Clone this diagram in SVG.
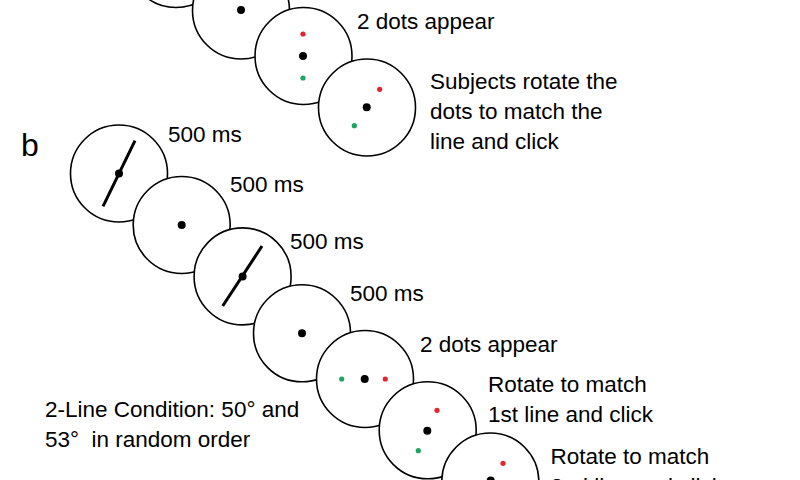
<svg xmlns="http://www.w3.org/2000/svg" width="800" height="480" viewBox="0 0 800 480">
  <style>
    .c { fill: #ffffff; stroke: #000000; stroke-width: 1.6; }
    .fix { fill: #000000; }
    .red { fill: #e3262e; }
    .grn { fill: #1fa463; }
    .bar { stroke: #000000; stroke-width: 3; stroke-linecap: butt; fill: none; }
    .t { font-family: "Liberation Sans", Arial, sans-serif; font-size: 22.5px; fill: #000000; white-space: pre; }
    .lbl { font-family: "Liberation Sans", Arial, sans-serif; font-size: 32px; fill: #000000; }
  </style>
  <rect x="0" y="0" width="800" height="480" fill="#ffffff"/>

  <!-- Panel a (partially visible) -->
  <g id="a1"><circle class="c" cx="176" cy="-41" r="48.5"/></g>
  <g id="a2"><circle class="c" cx="241" cy="10.5" r="48.5"/><circle class="fix" cx="241" cy="10" r="4"/></g>
  <g id="a3">
    <circle class="c" cx="303.5" cy="56" r="48.5"/>
    <circle class="red" cx="303" cy="34" r="2.6"/>
    <circle class="fix" cx="303" cy="56" r="4"/>
    <circle class="grn" cx="303" cy="78" r="2.6"/>
    <text class="t" x="357" y="29">2 dots appear</text>
  </g>
  <g id="a4">
    <circle class="c" cx="367" cy="107.5" r="48.5"/>
    <circle class="red" cx="379.7" cy="89.3" r="2.6"/>
    <circle class="fix" cx="366.7" cy="107.3" r="4"/>
    <circle class="grn" cx="354.3" cy="125.7" r="2.6"/>
    <text class="t" x="430" y="89">Subjects rotate the</text>
    <text class="t" x="430" y="119">dots to match the</text>
    <text class="t" x="430" y="149">line and click</text>
  </g>

  <!-- Panel b -->
  <g id="label-b"><text class="lbl" x="21" y="156">b</text></g>
  <g id="b1">
    <circle class="c" cx="119" cy="173.5" r="48.5"/>
    <line class="bar" x1="103" y1="206.4" x2="135" y2="140.7"/>
    <circle class="fix" cx="119" cy="173.4" r="4"/>
    <text class="t" x="168" y="142">500 ms</text>
  </g>
  <g id="b2">
    <circle class="c" cx="181.7" cy="225" r="48.5"/>
    <circle class="fix" cx="181.7" cy="225" r="4"/>
    <text class="t" x="230" y="192">500 ms</text>
  </g>
  <g id="b3">
    <circle class="c" cx="242.6" cy="276.4" r="48.5"/>
    <line class="bar" x1="222.7" y1="306" x2="262" y2="246"/>
    <circle class="fix" cx="242.6" cy="276.5" r="4"/>
    <text class="t" x="290" y="248.5">500 ms</text>
  </g>
  <g id="b4">
    <circle class="c" cx="302" cy="333.3" r="48.5"/>
    <circle class="fix" cx="302" cy="333.3" r="4"/>
    <text class="t" x="350" y="301">500 ms</text>
  </g>
  <g id="b5">
    <circle class="c" cx="365" cy="379" r="48.5"/>
    <circle class="grn" cx="341.7" cy="379" r="2.6"/>
    <circle class="fix" cx="364.7" cy="379" r="4"/>
    <circle class="red" cx="385.3" cy="379" r="2.6"/>
    <text class="t" x="420" y="352">2 dots appear</text>
  </g>
  <g id="b6">
    <circle class="c" cx="427.7" cy="430.3" r="48.5"/>
    <circle class="red" cx="437" cy="410.3" r="2.6"/>
    <circle class="fix" cx="427.3" cy="430.7" r="4"/>
    <circle class="grn" cx="418.3" cy="450.7" r="2.6"/>
    <text class="t" x="488" y="392">Rotate to match</text>
    <text class="t" x="488" y="422">1st line and click</text>
  </g>
  <g id="b7">
    <circle class="c" cx="490.3" cy="481.5" r="48.5"/>
    <circle class="red" cx="503" cy="463.3" r="2.6"/>
    <circle class="fix" cx="490.7" cy="480.5" r="4"/>
    <text class="t" x="550.5" y="463.5">Rotate to match</text>
    <text class="t" x="550.5" y="493.5">2nd line and click</text>
  </g>
  <g id="condition">
    <text class="t" x="45" y="417">2-Line Condition: 50° and</text>
    <text class="t" x="45" y="447">53°  in random order</text>
  </g>
  <g id="connectors"></g>
</svg>
